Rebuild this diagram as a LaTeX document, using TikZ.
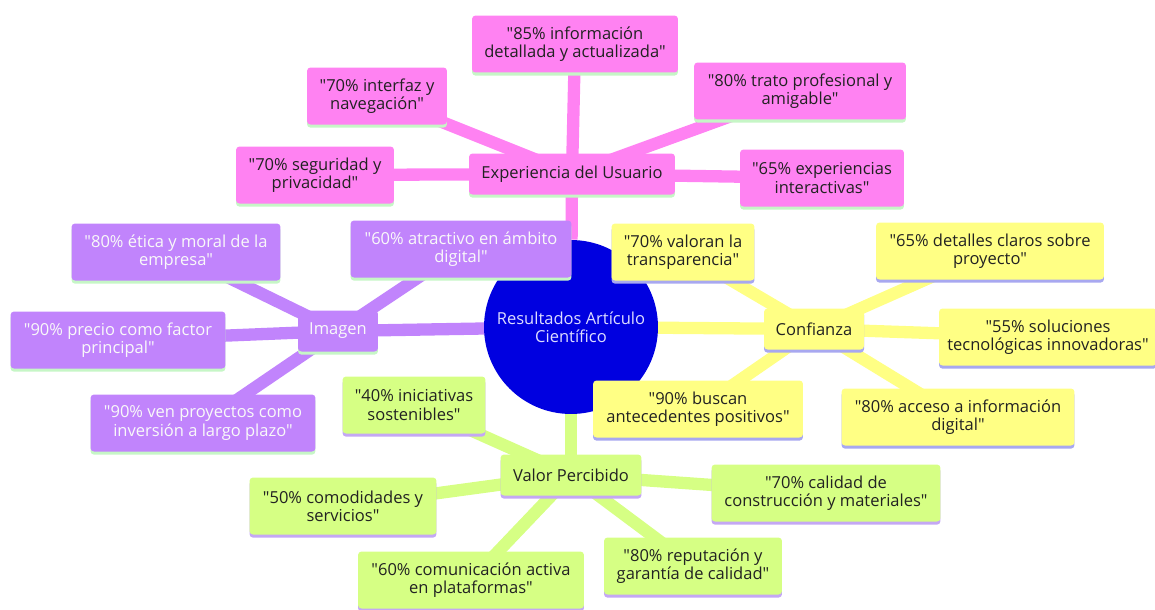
\documentclass[tikz,border=0pt]{standalone}
\usepackage{fontspec}
\setmainfont{Open Sans}[Ligatures=TeXOff]
\usepackage{xcolor}
\definecolor{MapBlue}{HTML}{0000E0}
\definecolor{MapPink}{HTML}{FF82F2}
\definecolor{MapPurple}{HTML}{C184FC}
\definecolor{MapGreen}{HTML}{D6FF84}
\definecolor{MapYellow}{HTML}{FFFF84}
\definecolor{StripeGreen}{HTML}{C6F6C6}
\definecolor{StripeBlue}{HTML}{A8A8F0}
\definecolor{StripeLilac}{HTML}{C4A8F4}
\definecolor{MapText}{HTML}{222222}
\definecolor{MapRootText}{HTML}{DCDCFF}
\usepackage{tikz}
\usetikzlibrary{positioning,shadows,backgrounds}

\begin{document}
\begin{tikzpicture}[x=0.02cm,y=-0.02cm,
  leaf/.style={rounded corners=2pt,align=center,font=\fontsize{9.4}{10.4}\selectfont,inner sep=2pt,minimum height=1.14cm},
  topic/.style={leaf,minimum height=0.82cm},
  expbox/.style={fill=MapPink,text=MapText,general shadow={fill=StripeGreen,shadow yshift=-1.8pt}},
  imgbox/.style={fill=MapPurple,text=white!95!gray,general shadow={fill=StripeGreen,shadow yshift=-1.8pt}},
  valbox/.style={fill=MapGreen,text=MapText,general shadow={fill=StripeLilac,shadow yshift=-1.8pt}},
  confbox/.style={fill=MapYellow,text=MapText,general shadow={fill=StripeBlue,shadow yshift=-1.8pt}},
  branch/.style={line width=7pt}
]
  \useasboundingbox (0,0) rectangle (1155,609);
  % centre
  \node[circle,fill=MapBlue,text=MapRootText,minimum size=3.48cm,inner sep=0pt,align=center,font=\fontsize{9.4}{10.4}\selectfont] (root) at (571,327) {Resultados Artículo\\Científico};

  % Experiencia del Usuario
  \node[topic,expbox,minimum width=4.12cm] (exp) at (572,174) {Experiencia del Usuario};
  \node[leaf,expbox,minimum width=4.12cm] (e85) at (575,44) {"85\% información\\detallada y actualizada"};
  \node[leaf,expbox,minimum width=2.8cm] (e70i) at (377,96) {"70\% interfaz y\\navegación"};
  \node[leaf,expbox,minimum width=3.16cm] (e70s) at (315,175) {"70\% seguridad y\\privacidad"};
  \node[leaf,expbox,minimum width=4.24cm] (e80) at (800,91) {"80\% trato profesional y\\amigable"};
  \node[leaf,expbox,minimum width=3.28cm] (e65) at (822,178) {"65\% experiencias\\interactivas"};

  % Imagen
  \node[topic,imgbox,minimum width=1.6cm] (img) at (338,331) {Imagen};
  \node[leaf,imgbox,minimum width=4.18cm] (i80) at (176,252) {"80\% ética y moral de la\\empresa"};
  \node[leaf,imgbox,minimum width=4.42cm] (i60) at (461,249) {"60\% atractivo en ámbito\\digital"};
  \node[leaf,imgbox,minimum width=4.3cm] (i90p) at (118,340) {"90\% precio como factor\\principal"};
  \node[leaf,imgbox,minimum width=4.5cm] (i90v) at (203,423) {"90\% ven proyectos como\\inversión a largo plazo"};

  % Valor Percibido
  \node[topic,valbox,minimum width=2.82cm] (val) at (571,475) {Valor Percibido};
  \node[leaf,valbox,minimum width=2.86cm] (v40) at (414,405) {"40\% iniciativas\\sostenibles"};
  \node[leaf,valbox,minimum width=3.74cm] (v50) at (343,506) {"50\% comodidades y\\servicios"};
  \node[leaf,valbox,minimum width=4.52cm] (v60) at (471,580) {"60\% comunicación activa\\en plataformas"};
  \node[leaf,valbox,minimum width=4.58cm] (v70) at (826,493) {"70\% calidad de\\construcción y materiales"};
  \node[leaf,valbox,minimum width=3.56cm] (v80) at (693,566) {"80\% reputación y\\garantía de calidad"};

  % Confianza
  \node[topic,confbox,minimum width=2cm] (conf) at (814,329) {Confianza};
  \node[leaf,confbox,minimum width=2.86cm] (c70) at (683,252) {"70\% valoran la\\transparencia"};
  \node[leaf,confbox,minimum width=4.56cm] (c65) at (990,251) {"65\% detalles claros sobre\\proyecto"};
  \node[leaf,confbox,minimum width=4.36cm] (c55) at (1048,337) {"55\% soluciones\\tecnológicas innovadoras"};
  \node[leaf,confbox,minimum width=4.2cm] (c90) at (698,409) {"90\% buscan\\antecedentes positivos"};
  \node[leaf,confbox,minimum width=4.66cm] (c80) at (958,417) {"80\% acceso a información\\digital"};

  \begin{scope}[on background layer]
    \draw[branch,MapPink] (root) -- (exp);
    \foreach \n in {e85,e70i,e70s,e80,e65} \draw[branch,MapPink] (exp.center) -- (\n.center);
    \draw[branch,MapPurple] (root.center) -- (img.center);
    \foreach \n in {i80,i60,i90p,i90v} \draw[branch,MapPurple] (img.center) -- (\n.center);
    \draw[branch,MapGreen] (root.center) -- (val.center);
    \foreach \n in {v40,v50,v60,v70,v80} \draw[branch,MapGreen] (val.center) -- (\n.center);
    \draw[branch,MapYellow] (root.center) -- (conf.center);
    \foreach \n in {c70,c65,c55,c90,c80} \draw[branch,MapYellow] (conf.center) -- (\n.center);
  \end{scope}
\end{tikzpicture}
\end{document}
